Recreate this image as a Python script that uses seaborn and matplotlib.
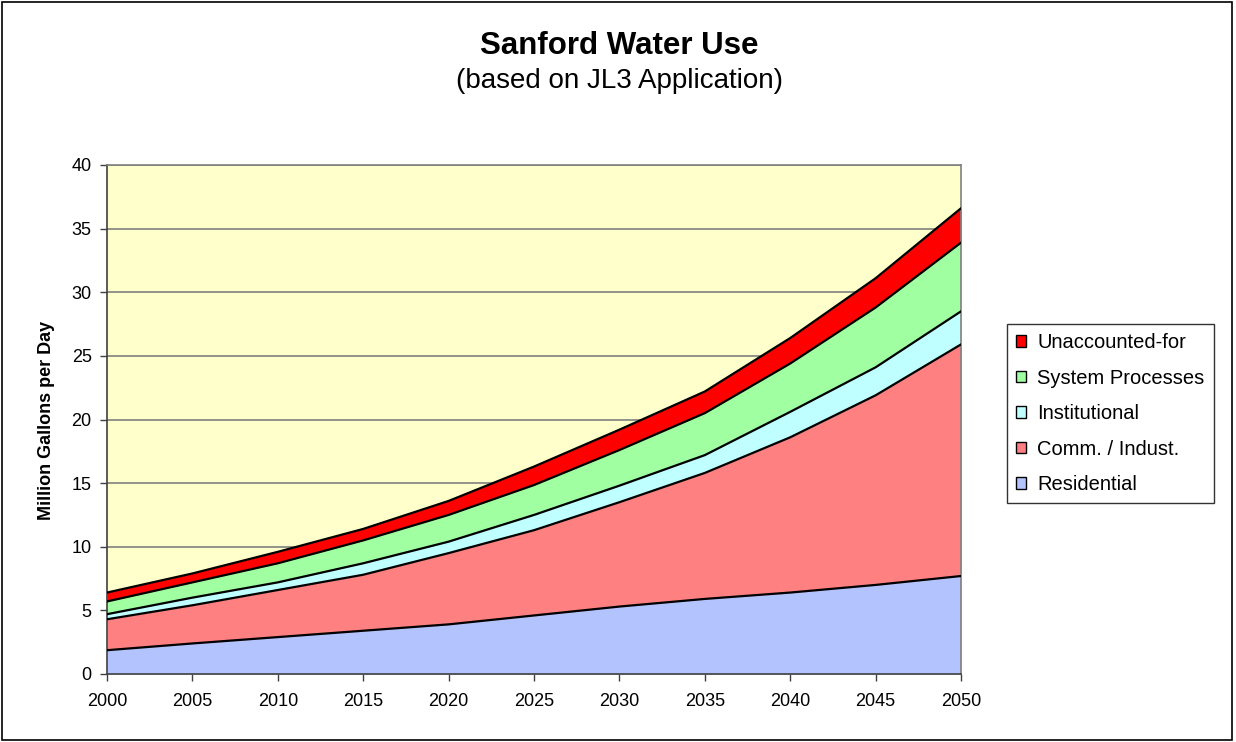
import numpy as np
import pandas as pd
import matplotlib
matplotlib.use("Agg")
import matplotlib.pyplot as plt
from matplotlib.patches import Rectangle, Patch
import seaborn as sns

# Planning years and water use by sector (million gallons per day)
years = [2000, 2005, 2010, 2015, 2020, 2025, 2030, 2035, 2040, 2045, 2050]
residential = [1.87, 2.4, 2.9, 3.4, 3.9, 4.6, 5.3, 5.9, 6.4, 7.0, 7.7]
comm_indust = [2.43, 3.0, 3.7, 4.4, 5.6, 6.7, 8.2, 9.9, 12.2, 14.9, 18.2]
institutional = [0.4, 0.6, 0.6, 0.9, 0.9, 1.2, 1.3, 1.4, 2.0, 2.2, 2.6]
system_processes = [1.0, 1.2, 1.5, 1.8, 2.1, 2.35, 2.8, 3.3, 3.8, 4.7, 5.4]
unaccounted = [0.7, 0.7, 0.9, 0.9, 1.1, 1.45, 1.6, 1.7, 2.0, 2.3, 2.7]

series_names = ["Residential", "Comm. / Indust.", "Institutional",
                "System Processes", "Unaccounted-for"]
series_values = [residential, comm_indust, institutional,
                 system_processes, unaccounted]
colors = ["#B3C3FE", "#FF8080", "#C0FFFF", "#A0FFA0", "#FF0000"]

y_ticks = [0, 5, 10, 15, 20, 25, 30, 35, 40]

sns.set_style("white")
plt.rcParams["font.family"] = ["Liberation Sans", "DejaVu Sans"]
plt.rcParams["text.color"] = "black"
plt.rcParams["xtick.color"] = "black"
plt.rcParams["ytick.color"] = "black"

fig = plt.figure(figsize=(12.36, 7.42), dpi=100)
ax = fig.add_axes([107 / 1236, 1 - 674 / 742, (961 - 107) / 1236, (674 - 165) / 742])
ax.set_facecolor("#FFFFCC")

# Stacked areas
ax.stackplot(years, *series_values, colors=colors, linewidth=0, zorder=2)

# Boundary lines of each stacked layer
cum = np.cumsum(np.array(series_values), axis=0)
long = pd.DataFrame({
    "year": np.tile(years, len(series_names)),
    "total": cum.ravel(),
    "layer": np.repeat(series_names, len(years)),
})
sns.lineplot(data=long, x="year", y="total", hue="layer",
             palette=["black"] * len(series_names), linewidth=1.6,
             legend=False, ax=ax, zorder=3)

ax.set_xlim(2000, 2050)
ax.set_ylim(0, 40)
ax.set_xticks(years)
ax.set_yticks(y_ticks)
ax.yaxis.grid(True, color="#808080", linewidth=1.2, zorder=1)
ax.set_axisbelow(True)
ax.tick_params(axis="both", direction="out", length=5, width=1, color="#404040",
               labelsize=13, bottom=True, left=True)
ax.tick_params(axis="x", pad=9)
ax.tick_params(axis="y", pad=6)
ax.set_xlabel("")
ax.set_ylabel("")
for side in ["left", "bottom"]:
    ax.spines[side].set_color("#404040")
    ax.spines[side].set_linewidth(1.2)
for side in ["top", "right"]:
    ax.spines[side].set_color("#808080")
    ax.spines[side].set_linewidth(1.2)

fig.text(47 / 1236, 1 - 420 / 742, "Million Gallons per Day", rotation=90,
         ha="center", va="center", fontsize=13, fontweight="bold")

fig.text(619 / 1236, 1 - 46 / 742, "Sanford Water Use", ha="center", va="center",
         fontsize=22.5, fontweight="bold")
fig.text(619 / 1236, 1 - 81 / 742, "(based on JL3 Application)", ha="center",
         va="center", fontsize=20)

handles = [Patch(facecolor=c, edgecolor="black", linewidth=1) for c in colors][::-1]
leg = fig.legend(handles, series_names[::-1], loc="upper left",
                 bbox_to_anchor=(1007 / 1236, 1 - 324 / 742),
                 frameon=True, fancybox=False, fontsize=14.5,
                 handlelength=0.5, handleheight=0.5, handletextpad=0.55,
                 labelspacing=0.82, borderpad=0.45, borderaxespad=0)
leg.get_frame().set_edgecolor("black")
leg.get_frame().set_linewidth(1)

fig.patches.append(Rectangle((0.002, 0.003), 0.995, 0.994, transform=fig.transFigure,
                             fill=False, edgecolor="black", linewidth=1.2))

fig.savefig("out.png", dpi=100)
